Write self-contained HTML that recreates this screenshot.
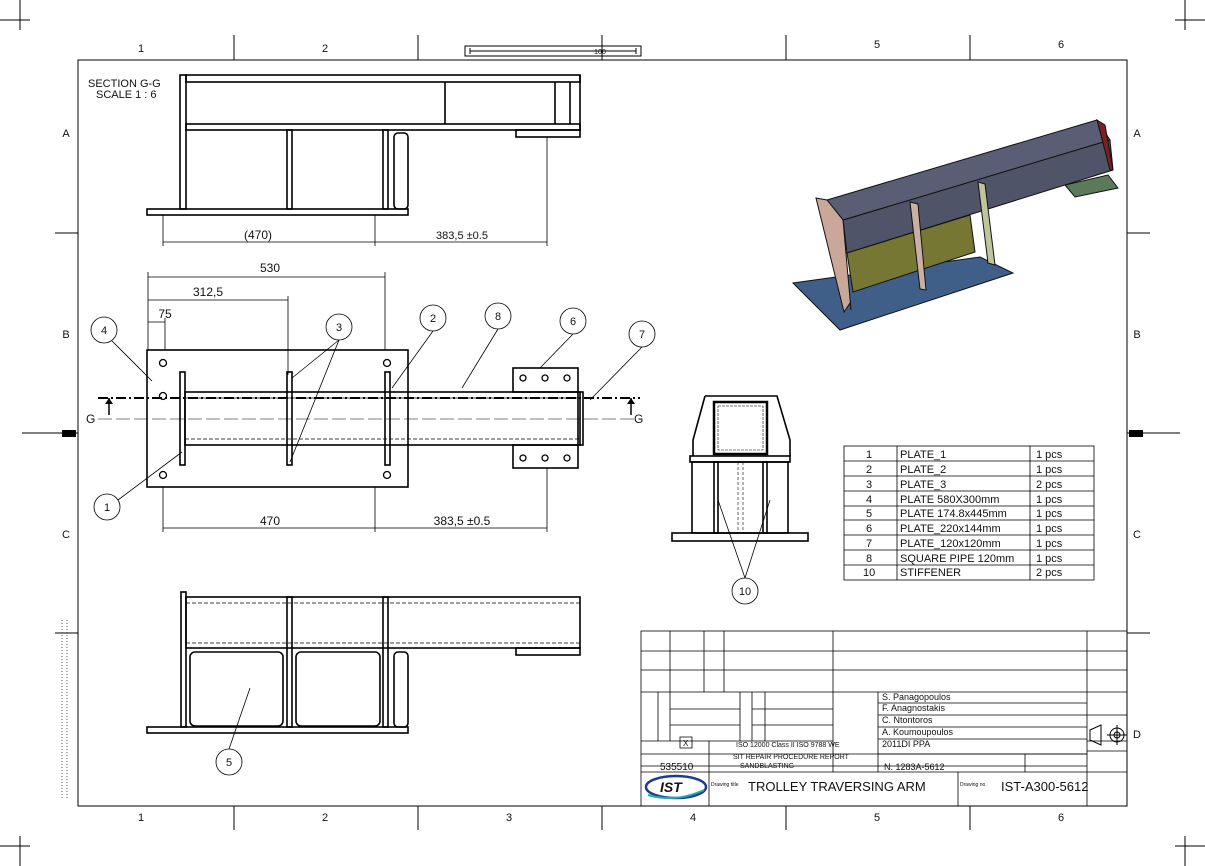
<!DOCTYPE html>
<html><head><style>
html,body{margin:0;padding:0;background:#fff}
svg{display:block}
text{font-family:"Liberation Sans",sans-serif;fill:#111}
</style></head><body>
<svg width="1205" height="866" viewBox="0 0 1205 866" xmlns="http://www.w3.org/2000/svg">
<g stroke="#000" fill="none" stroke-width="1">
<path d="M0 20H30M20 0V30M1175 20H1205M1185 0V30M0 846H30M20 836V866M1175 846H1205M1185 836V866"/>
<rect x="78" y="60" width="1049" height="746"/>
<path d="M234 35V60M418 35V60M602 35V60M786 35V60M970 35V60M234 806V830M418 806V830M602 806V830M786 806V830M970 806V830"/>
<path d="M55 233H78M55 433H78M55 633H78M1127 233H1150M1127 433H1150M1127 633H1150"/>
<path d="M22 433H60M1140 433H1180"/>
</g>
<rect x="62" y="430" width="14" height="7" fill="#000"/><rect x="1129" y="430" width="14" height="7" fill="#000"/>
<g font-size="11" text-anchor="middle">
<text x="141" y="52">1</text><text x="325" y="52">2</text><text x="877" y="48">5</text><text x="1061" y="48">6</text>
<text x="141" y="821">1</text><text x="325" y="821">2</text><text x="509" y="821">3</text><text x="693" y="821">4</text><text x="877" y="821">5</text><text x="1061" y="821">6</text>
<text x="66" y="137">A</text><text x="66" y="338">B</text><text x="66" y="538">C</text>
<text x="1137" y="137">A</text><text x="1137" y="338">B</text><text x="1137" y="538">C</text><text x="1137" y="738">D</text>
</g>
<g stroke="#000" fill="none"><rect x="465" y="46" width="176" height="10"/><path d="M470 51H636M470 48V54M636 48V54"/></g>
<text x="600" y="54" font-size="7" text-anchor="middle">100</text>
<g stroke="#555" stroke-dasharray="1 2"><path d="M62 620V800M67 620V800"/></g>

<!-- Section G-G -->
<text x="88" y="87" font-size="11">SECTION G-G</text>
<text x="96" y="98" font-size="11">SCALE 1 : 6</text>
<g stroke="#000" fill="none" stroke-width="1.6">
<rect x="147" y="209" width="261" height="6"/>
<rect x="180" y="75" width="6" height="134"/>
<rect x="186" y="75" width="394" height="7"/>
<rect x="186" y="124" width="394" height="6"/>
<path d="M445 82V124M555 82V124M570 82V124M580 75V130"/>
<rect x="287" y="130" width="5" height="79"/><rect x="383" y="130" width="5" height="79"/>
<rect x="394" y="133" width="14" height="76" rx="4"/>
<rect x="516" y="130" width="64" height="7"/>
</g>
<g stroke="#000" fill="none" stroke-width="0.8">
<path d="M163 215V246M375 215V246M547 137V246M163 242H547"/>
</g>
<text x="258" y="239" font-size="12" text-anchor="middle">(470)</text>
<text x="462" y="239" font-size="11" text-anchor="middle">383,5 ±0.5</text>

<!-- Plan view -->
<g stroke="#000" fill="none" stroke-width="0.8">
<path d="M148 272V350M385 272V350M288 296V375M165 318V350M148 277H385M148 300H288M148 322H165"/>
<path d="M163 487V532M375 487V532M547 468V532M163 528H547"/>
</g>
<g font-size="12" text-anchor="middle"><text x="270" y="272">530</text><text x="208" y="296">312,5</text><text x="165" y="318">75</text><text x="270" y="525">470</text><text x="462" y="525">383,5 ±0.5</text></g>
<g stroke="#000" fill="none" stroke-width="1.6">
<rect x="147" y="350" width="261" height="137"/>
<rect x="180" y="372" width="5" height="93"/>
<rect x="185" y="392" width="395" height="53"/>
<path d="M185 398H580M185 439H580" stroke-dasharray="4 2" stroke-width="0.8"/>
<rect x="287" y="372" width="5" height="93"/><rect x="385" y="372" width="5" height="93"/>
<rect x="513" y="368" width="65" height="24"/><rect x="513" y="445" width="65" height="23"/>
<rect x="578" y="392" width="5" height="53"/>
</g>
<g fill="none" stroke="#000" stroke-width="1.3"><circle cx="163" cy="363" r="3.5"/><circle cx="163" cy="475" r="3.5"/><circle cx="387" cy="363" r="3.5"/><circle cx="387" cy="475" r="3.5"/><circle cx="163" cy="396" r="3.5"/>
<circle cx="523" cy="378" r="3"/><circle cx="545" cy="378" r="3"/><circle cx="567" cy="378" r="3"/><circle cx="523" cy="458" r="3"/><circle cx="545" cy="458" r="3"/><circle cx="567" cy="458" r="3"/></g>
<path d="M98 398H640" stroke="#000" stroke-dasharray="10 3 2 3" stroke-width="2"/>
<path d="M98 419H640" stroke="#000" stroke-dasharray="14 4" stroke-width="0.5"/>
<path d="M109 398V415M631 398V415" stroke="#000" stroke-width="1.5"/>
<path d="M105 404L109 398L113 404ZM627 404L631 398L635 404Z" fill="#000"/>
<text x="86" y="423" font-size="12">G</text><text x="634" y="423" font-size="12">G</text>
<g stroke="#000" fill="#fff" stroke-width="0.8">
<path d="M112 341L152 381M339 340L292 378M339 340L290 462M433 331L392 388M498 329L462 388M573 334L540 368M642 347L590 400M118 500L182 452M745 578L718 500M745 578L770 500M229 749L250 688" fill="none"/>
<circle cx="104" cy="330" r="13"/><circle cx="339" cy="327" r="13"/><circle cx="433" cy="318" r="13"/><circle cx="498" cy="316" r="13"/><circle cx="573" cy="321" r="13"/><circle cx="642" cy="334" r="13"/><circle cx="107" cy="507" r="13"/><circle cx="745" cy="591" r="13"/><circle cx="229" cy="762" r="13"/>
</g>
<g font-size="11" text-anchor="middle"><text x="104" y="334">4</text><text x="339" y="331">3</text><text x="433" y="322">2</text><text x="498" y="320">8</text><text x="573" y="325">6</text><text x="642" y="338">7</text><text x="107" y="511">1</text><text x="745" y="595">10</text><text x="229" y="766">5</text></g>

<!-- Front view -->
<g stroke="#000" fill="none" stroke-width="1.6">
<path d="M705 396H777L790 440V456M705 396L693 440V456"/>
<rect x="714" y="402" width="53" height="52" stroke-width="2.5"/>
<rect x="718" y="406" width="45" height="44" stroke-width="0.6" stroke-dasharray="3 1"/>
<rect x="690" y="456" width="100" height="6"/>
<rect x="692" y="462" width="96" height="71"/>
<rect x="672" y="533" width="136" height="8"/>
<rect x="714" y="462" width="4" height="71"/><rect x="763" y="462" width="4" height="71"/>
<path d="M738 462V533M743 462V533" stroke-dasharray="3 2" stroke-width="0.6"/>
</g>

<!-- Bottom view -->
<g stroke="#000" fill="none" stroke-width="1.6">
<rect x="147" y="727" width="261" height="6"/>
<rect x="181" y="592" width="5" height="135"/>
<rect x="186" y="597" width="394" height="51"/>
<path d="M186 603H580M186 643H580" stroke-dasharray="4 2" stroke-width="0.8"/>
<rect x="190" y="652" width="93" height="74" rx="5"/><rect x="296" y="652" width="84" height="74" rx="5"/>
<rect x="287" y="597" width="5" height="130"/><rect x="383" y="597" width="5" height="130"/>
<rect x="394" y="652" width="14" height="75" rx="4"/>
<rect x="516" y="648" width="64" height="7"/>
</g>

<!-- 3D view -->
<polygon points="793,283 840,330 1013,273 980,257" fill="#3f5f88" stroke="#111"/>
<polygon points="1065,185 1075,197 1118,188 1108,175" fill="#5c7a5a" stroke="#111"/>
<polygon points="843,220 847,253 1113,170 1110,140" fill="#505468" stroke="#111"/>
<polygon points="847,253 853,292 975,252 970,215" fill="#777734" stroke="#111"/>
<polygon points="827,200 1097,120 1110,140 843,220" fill="#5a5e74" stroke="#111"/>
<polygon points="816,198 827,200 843,220 851,310 850,303 844,312" fill="#c9a899" stroke="#111"/>
<polygon points="910,202 918,204 926,290 920,289" fill="#c9b0a2" stroke="#111"/>
<polygon points="978,182 985,184 995,265 988,263" fill="#bfc59a" stroke="#111"/>
<polygon points="1097,120 1105,125 1113,170 1110,170" fill="#7a2020" stroke="#111"/>

<!-- Table -->
<g stroke="#000" fill="none" stroke-width="0.8">
<rect x="844" y="446" width="250" height="134"/>
<path d="M897 446V580M1030 446V580M844 461H1094M844 476H1094M844 491H1094M844 506H1094M844 520H1094M844 535H1094M844 550H1094M844 565H1094"/>
</g>
<g font-size="11">
<text x="866" y="458">1</text><text x="900" y="458">PLATE_1</text><text x="1036" y="458">1 pcs</text>
<text x="866" y="473">2</text><text x="900" y="473">PLATE_2</text><text x="1036" y="473">1 pcs</text>
<text x="866" y="488">3</text><text x="900" y="488">PLATE_3</text><text x="1036" y="488">2 pcs</text>
<text x="866" y="503">4</text><text x="900" y="503">PLATE 580X300mm</text><text x="1036" y="503">1 pcs</text>
<text x="866" y="517">5</text><text x="900" y="517">PLATE 174.8x445mm</text><text x="1036" y="517">1 pcs</text>
<text x="866" y="532">6</text><text x="900" y="532">PLATE_220x144mm</text><text x="1036" y="532">1 pcs</text>
<text x="866" y="547">7</text><text x="900" y="547">PLATE_120x120mm</text><text x="1036" y="547">1 pcs</text>
<text x="866" y="562">8</text><text x="900" y="562">SQUARE PIPE 120mm</text><text x="1036" y="562">1 pcs</text>
<text x="863" y="576">10</text><text x="900" y="576">STIFFENER</text><text x="1036" y="576">2 pcs</text>
</g>

<!-- Title block -->
<g stroke="#000" fill="none" stroke-width="0.8">
<rect x="641" y="631" width="486" height="175"/>
<path d="M670 631V692M704 631V692M724 631V692M833 631V692M1087 631V806M641 651H1127M641 670H1127M641 692H1127"/>
<path d="M641 741H833M641 754H1087M641 766H1087M641 772H1127M641 806H1127"/>
<path d="M658 692V741M670 692V741M740 692V741M752 692V741M765 692V741M833 692V772M878 692V772M670 709H740M670 725H740M752 709H833M752 725H833M878 703H1087M878 715H1087M878 727H1087M878 739H1087M878 754H1087M1087 715H1127M1087 741H1127M1087 751H1127M1025 754V772M709 741V772M709 772V806M958 772V806M680 737V748H692V737Z"/>
</g>
<g font-size="9">
<text x="882" y="700">S. Panagopoulos</text><text x="882" y="711">F. Anagnostakis</text><text x="882" y="723">C. Ntontoros</text><text x="882" y="735">A. Koumoupoulos</text>
<text x="882" y="747">2011DI PPA</text><text x="884" y="770">N. 1283A-5612</text>
<text x="736" y="747" font-size="7">ISO 12000 Class II ISO 9788 WE</text>
<text x="733" y="759" font-size="7">SIT REPAIR PROCEDURE REPORT</text>
<text x="740" y="768" font-size="7">SANDBLASTING</text>
<text x="660" y="770" font-size="10">535510</text>
<text x="683" y="746" font-size="8">X</text>
</g>
<text x="748" y="791" font-size="13">TROLLEY TRAVERSING ARM</text>
<text x="1001" y="791" font-size="13">IST-A300-5612</text>
<g font-size="5" fill="#333"><text x="711" y="786">Drawing title</text><text x="960" y="786">Drawing no.</text></g>
<ellipse cx="676" cy="787" rx="30" ry="11" fill="none" stroke="#1a3b8f" stroke-width="2.5"/>
<text x="660" y="792" font-size="14" font-weight="bold" font-style="italic" fill="#1a3b8f">IST</text>
<path d="M648 795Q676 803 704 790" stroke="#2aa" stroke-width="2" fill="none"/>
<g stroke="#000" fill="none"><path d="M1090 730L1101 725V745L1090 740Z"/><circle cx="1117" cy="735" r="7"/><circle cx="1117" cy="735" r="3"/><path d="M1107 735H1127M1117 725V745"/></g>
</svg>
</body></html>
